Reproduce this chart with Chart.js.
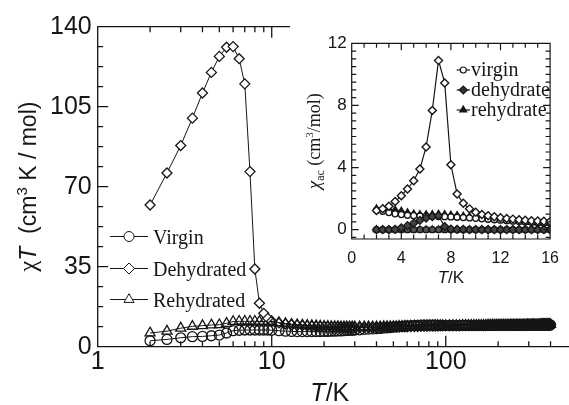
<!DOCTYPE html>
<html><head><meta charset="utf-8">
<script src="https://cdn.jsdelivr.net/npm/chart.js@4/dist/chart.umd.min.js"></script>
<style>
html,body{margin:0;padding:0;background:#fff;}
#wrap{position:relative;width:569px;height:405px;overflow:hidden;background:#fff;}
#main{position:absolute;left:0;top:0;width:569px;height:405px;}
#insetBox{position:absolute;left:290px;top:0;width:279px;height:290px;background:#fff;}
#inset{width:279px;height:290px;}
</style></head><body>
<div id="wrap">
<canvas id="main" width="569" height="405"></canvas>
<div id="insetBox"><canvas id="inset" width="279" height="290"></canvas></div>
</div>
<script>
// ---------------- main plot data (chi*T vs T) ----------------
const temperature = [2, 2.5, 3, 3.5, 4, 4.5, 5, 5.5, 6, 6.5, 7, 7.5, 8, 8.5, 9, 9.5,
  10, 11, 12, 13, 14, 15, 16, 17, 18, 19, 20, 21, 22, 23, 24, 25, 26, 27, 28, 29, 30,
  32, 34, 36, 38, 40, 42, 44, 46, 48, 50, 52, 54, 56, 58, 60,
  63, 66, 69, 72, 75, 78, 81, 84, 87, 90, 93, 96,
  100, 105, 110, 115, 120, 125, 130, 135, 140, 145,
  150, 155, 160, 165, 170, 175, 180, 185, 190, 195,
  200, 205, 210, 215, 220, 225, 230, 235, 240, 245,
  250, 255, 260, 265, 270, 275, 280, 285, 290, 295,
  300, 305, 310, 315, 320, 325, 330, 335, 340, 345,
  350, 355, 360, 365, 370, 375, 380, 385, 390, 395,
  400];
const virginChiT = [2.6, 3.2, 3.9, 4.4, 4.5, 4.8, 5.1, 6.0, 7.0, 7.2, 7.3, 7.3, 7.3, 7.3, 7.3, 7.3,
  7.2, 7.0, 6.8, 6.7, 6.6, 6.6, 6.6, 6.6, 6.6, 6.6, 6.7, 6.7, 6.8, 6.8, 6.9, 6.9, 7.0, 7.1, 7.2, 7.2, 7.3,
  7.4, 7.6, 7.7, 7.8, 7.9, 8.0, 8.2, 8.3, 8.4, 8.6, 8.7, 8.8, 8.9, 9.0, 9.1,
  9.2, 9.3, 9.3, 9.4, 9.4, 9.4, 9.4, 9.4, 9.4, 9.3, 9.3, 9.3,
  9.3, 9.3, 9.3, 9.3, 9.3, 9.3, 9.3, 9.3, 9.3, 9.3,
  9.3, 9.3, 9.3, 9.3, 9.3, 9.3, 9.3, 9.3, 9.3, 9.3,
  9.4, 9.4, 9.4, 9.4, 9.4, 9.4, 9.4, 9.4, 9.4, 9.4,
  9.4, 9.4, 9.4, 9.4, 9.4, 9.4, 9.4, 9.4, 9.4, 9.4,
  9.5, 9.5, 9.5, 9.5, 9.5, 9.5, 9.5, 9.5, 9.5, 9.5,
  9.5, 9.5, 9.5, 9.5, 9.5, 9.5, 9.5, 9.5, 9.5, 9.5,
  9.5];
const dehydratedChiT = [62, 76, 88, 100, 111, 120, 127, 131, 131.3, 126, 115, 76.6, 34, 19, 14.6, 12.4,
  11.2, 10.4, 9.9, 9.6, 9.4, 9.2, 9.0, 8.9, 8.8, 8.7, 8.6, 8.6, 8.5, 8.5, 8.5, 8.4, 8.4, 8.4, 8.4, 8.4, 8.4,
  8.4, 8.4, 8.4, 8.4, 8.4, 8.5, 8.5, 8.5, 8.5, 8.6, 8.6, 8.6, 8.7, 8.7, 8.7,
  8.8, 8.8, 8.8, 8.9, 8.9, 8.9, 9.0, 9.0, 9.0, 9.0, 9.1, 9.1,
  9.1, 9.1, 9.1, 9.1, 9.1, 9.2, 9.2, 9.2, 9.2, 9.2,
  9.2, 9.2, 9.2, 9.2, 9.2, 9.3, 9.3, 9.3, 9.3, 9.3,
  9.3, 9.3, 9.3, 9.3, 9.3, 9.3, 9.3, 9.4, 9.4, 9.4,
  9.4, 9.4, 9.4, 9.4, 9.4, 9.4, 9.4, 9.4, 9.4, 9.5,
  9.5, 9.5, 9.5, 9.5, 9.5, 9.5, 9.5, 9.5, 9.5, 9.5,
  9.5, 9.6, 9.6, 9.6, 9.6, 9.6, 9.6, 9.6, 9.6, 9.6,
  9.6];
const rehydratedChiT = [6.0, 6.8, 8.1, 8.9, 9.2, 9.5, 9.6, 10.2, 11.0, 11.1, 11.1, 11.1, 11.1, 11.0, 11.0, 11.0,
  10.9, 10.5, 10.1, 9.8, 9.6, 9.4, 9.3, 9.2, 9.1, 9.0, 8.9, 8.9, 8.8, 8.8, 8.8, 8.7, 8.7, 8.7, 8.7, 8.7, 8.7,
  8.7, 8.7, 8.7, 8.7, 8.7, 8.7, 8.8, 8.8, 8.8, 8.8, 8.8, 8.9, 8.9, 8.9, 8.9,
  9.0, 9.0, 9.0, 9.0, 9.1, 9.1, 9.1, 9.1, 9.2, 9.2, 9.2, 9.2,
  9.2, 9.2, 9.2, 9.2, 9.2, 9.3, 9.3, 9.3, 9.3, 9.3,
  9.3, 9.3, 9.3, 9.3, 9.3, 9.4, 9.4, 9.4, 9.4, 9.4,
  9.4, 9.4, 9.4, 9.4, 9.4, 9.4, 9.4, 9.5, 9.5, 9.5,
  9.5, 9.5, 9.5, 9.5, 9.5, 9.5, 9.5, 9.5, 9.5, 9.6,
  9.6, 9.6, 9.6, 9.6, 9.6, 9.6, 9.6, 9.6, 9.6, 9.6,
  9.6, 9.7, 9.7, 9.7, 9.7, 9.7, 9.7, 9.7, 9.7, 9.7,
  9.7];
const mainLabels = ['Virgin', 'Dehydrated', 'Rehydrated'];
const xTickValues = [1, 2, 3, 4, 5, 6, 7, 8, 9, 10, 20, 30, 40, 50, 60, 70, 80, 90, 100, 200, 300, 400];
const xTickLabels = [1, 10, 100];
const yTickValues = [0, 8.75, 17.5, 26.25, 35, 43.75, 52.5, 61.25, 70, 78.75, 87.5, 96.25, 105, 113.75, 122.5, 131.25, 140];
const yTickLabels = [0, 35, 70, 105, 140];

// ---------------- inset data (chi_ac vs T) ----------------
const insetTemperature = [2, 2.5, 3, 3.5, 4, 4.5, 5, 5.5, 6, 6.5, 7, 7.5, 8, 8.5, 9, 9.5,
  10, 10.5, 11, 11.5, 12, 12.5, 13, 13.5, 14, 14.5, 15, 15.5, 16];
const virginChiAcReal = [1.25, 1.18, 1.1, 1.02, 0.97, 0.93, 0.9, 0.88, 0.87, 0.86, 0.85, 0.84, 0.82, 0.8, 0.78,
  0.76, 0.73, 0.7, 0.67, 0.64, 0.61, 0.58, 0.55, 0.52, 0.5, 0.48, 0.46, 0.44, 0.43];
const virginChiAcImag = [0, 0, 0, 0, 0, 0, 0, 0, 0, 0, 0, 0, 0, 0, 0, 0, 0, 0, 0, 0, 0, 0, 0, 0, 0, 0, 0, 0, 0];
const dehydrateChiAcReal = [1.23, 1.34, 1.51, 1.81, 2.19, 2.62, 3.15, 3.9, 5.33, 7.68, 10.9, 9.45, 4.18, 2.3, 1.7,
  1.34, 1.13, 0.98, 0.9, 0.83, 0.77, 0.72, 0.68, 0.64, 0.61, 0.58, 0.56, 0.54, 0.52];
const dehydrateChiAcImag = [0, 0, 0, 0.02, 0.12, 0.26, 0.42, 0.6, 0.75, 0.85, 0.9, 0.2, 0.04, 0.02, 0.01,
  0, 0, 0, 0, 0, 0, 0, 0, 0, 0, 0, 0, 0, 0];
const rehydrateChiAcReal = [1.35, 1.36, 1.33, 1.28, 1.2, 1.1, 1.02, 0.98, 0.97, 0.98, 1.0, 0.98, 0.95, 0.92, 0.88,
  0.84, 0.8, 0.76, 0.72, 0.68, 0.64, 0.6, 0.56, 0.53, 0.5, 0.47, 0.44, 0.42, 0.4];
const rehydrateChiAcImag = [0, 0, 0, 0, 0, 0, 0, 0, 0, 0, 0, 0, 0, 0, 0, 0, 0, 0, 0, 0, 0, 0, 0, 0, 0, 0, 0, 0, 0];
const insetLabels = ['virgin', 'dehydrate', 'rehydrate'];
const insetXTicks = [0, 1, 2, 3, 4, 5, 6, 7, 8, 9, 10, 11, 12, 13, 14, 15, 16];
const insetXLabels = [0, 4, 8, 12, 16];
const insetYTicks = [-0.5, 0, 0.5, 1, 1.5, 2, 2.5, 3, 3.5, 4, 4.5, 5, 5.5, 6, 6.5, 7, 7.5, 8, 8.5, 9, 9.5, 10, 10.5, 11, 11.5, 12];
const insetYLabels = [0, 4, 8, 12];

const INK = '#161616';
const CLEAR = 'rgba(255,255,255,0)';

function pts(xs, ys) { return xs.map((x, i) => ({ x: x, y: ys[i] })); }

function drawMarker(ctx, style, x, y, r, fill) {
  ctx.beginPath();
  if (style === 'circle') {
    ctx.arc(x, y, r, 0, Math.PI * 2);
  } else if (style === 'rectRot') {
    ctx.moveTo(x - r, y); ctx.lineTo(x, y - r); ctx.lineTo(x + r, y); ctx.lineTo(x, y + r); ctx.closePath();
  } else {
    const s = Math.sin(2 * Math.PI / 3) * r;
    ctx.moveTo(x, y - r); ctx.lineTo(x + s, y + r / 2); ctx.lineTo(x - s, y + r / 2); ctx.closePath();
  }
  ctx.fillStyle = fill; ctx.fill(); ctx.stroke();
}

function drawRuns(ctx, runs, x, y) {
  let total = 0;
  runs.forEach(r => { ctx.font = r.font; r.w = ctx.measureText(r.t).width; total += r.w; });
  let cx = x - total / 2;
  ctx.textBaseline = 'alphabetic'; ctx.textAlign = 'left'; ctx.fillStyle = INK;
  runs.forEach(r => { ctx.font = r.font; ctx.fillText(r.t, cx, y + (r.dy || 0)); cx += r.w; });
}

function ds(label, data, style, r, fill, bw, lw) {
  return { label: label, data: data, pointStyle: style, pointRadius: r, pointBackgroundColor: fill,
    pointBorderColor: INK, pointBorderWidth: bw, borderColor: INK, borderWidth: lw, showLine: true,
    tension: 0, fill: false };
}

// diamonds: white inside on the isolated peak, see-through in the crowded high-T band
const diamondFill = c => (c.raw && c.raw.x < 10) ? '#fff' : CLEAR;

// ---------------- main chart ----------------
const mainStyles = [
  { style: 'circle', r: 5, fill: '#fff' },
  { style: 'rectRot', r: 5.5, fill: '#fff' },
  { style: 'triangle', r: 5.8, fill: '#fff' }
];

const mainPlugin = {
  id: 'mainPlugin',
  afterDraw(chart) {
    const ctx = chart.ctx, a = chart.chartArea, xs = chart.scales.x, ys = chart.scales.y;
    ctx.save();
    ctx.strokeStyle = INK; ctx.lineWidth = 1.3;
    ctx.beginPath();
    ctx.moveTo(a.left, a.top); ctx.lineTo(a.left, a.bottom);
    ctx.moveTo(a.left - 0.65, a.bottom); ctx.lineTo(chart.width, a.bottom);
    ctx.moveTo(a.left - 0.65, a.top); ctx.lineTo(chart.width, a.top);
    xTickValues.forEach(v => {
      const px = xs.getPixelForValue(v);
      const L = xTickLabels.includes(v) ? 11 : 5.5;
      ctx.moveTo(px, a.bottom); ctx.lineTo(px, a.bottom - L);
      ctx.moveTo(px, a.top); ctx.lineTo(px, a.top + L);
    });
    yTickValues.forEach(v => {
      const py = ys.getPixelForValue(v);
      const L = yTickLabels.includes(v) ? 10.5 : 5.5;
      ctx.moveTo(a.left, py); ctx.lineTo(a.left + L, py);
    });
    ctx.stroke();

    // axis titles
    drawRuns(ctx, [
      { t: 'T', font: 'italic 25px "Liberation Sans"' },
      { t: '/K', font: '25px "Liberation Sans"' }
    ], (a.left + a.right) / 2, 401);
    ctx.save();
    ctx.translate(36, (a.top + a.bottom) / 2);
    ctx.rotate(-Math.PI / 2);
    drawRuns(ctx, [
      { t: 'χ', font: '25px "Liberation Serif"' },
      { t: 'T', font: 'italic 23px "Liberation Sans"' },
      { t: '  (cm', font: '23px "Liberation Sans"' },
      { t: '3', font: '15px "Liberation Sans"', dy: -9 },
      { t: ' K / mol)', font: '23px "Liberation Sans"' }
    ], 0, 0);
    ctx.restore();

    // legend
    const rows = [236.5, 268.5, 299.5];
    rows.forEach((y, i) => {
      ctx.strokeStyle = INK; ctx.lineWidth = 1;
      ctx.beginPath(); ctx.moveTo(110, y); ctx.lineTo(148, y); ctx.stroke();
      drawMarker(ctx, mainStyles[i].style, 129, y, mainStyles[i].r, mainStyles[i].fill);
      ctx.fillStyle = INK; ctx.font = '20px "Liberation Serif"';
      ctx.textAlign = 'left'; ctx.textBaseline = 'alphabetic';
      ctx.fillText(mainLabels[i], 153, y + 7.5);
    });
    ctx.restore();
  }
};

new Chart(document.getElementById('main'), {
  type: 'line',
  data: {
    datasets: [
      ds(mainLabels[0], pts(temperature, virginChiT), 'circle', 5, CLEAR, 1.3, 1),
      ds(mainLabels[1], pts(temperature, dehydratedChiT), 'rectRot', 5, diamondFill, 1.3, 1),
      ds(mainLabels[2], pts(temperature, rehydratedChiT), 'triangle', 5.8, CLEAR, 1.3, 1)
    ]
  },
  options: {
    responsive: false, animation: false, events: [],
    layout: { padding: { top: 26.7, right: 0, left: 0, bottom: 0 } },
    plugins: { legend: { display: false }, tooltip: { enabled: false }, title: { display: false } },
    scales: {
      x: {
        type: 'logarithmic', min: 1, max: 465, position: 'bottom',
        grid: { display: false, drawTicks: false }, border: { display: false },
        afterBuildTicks: s => { s.ticks = xTickValues.map(v => ({ value: v })); },
        afterFit: s => { s.height = 58.3; },
        ticks: { autoSkip: false, maxRotation: 0, minRotation: 0, padding: 0, color: INK,
          font: { family: '"Liberation Sans"', size: 25 },
          callback: v => xTickLabels.includes(v) ? String(v) : '' }
      },
      y: {
        type: 'linear', min: 0, max: 140,
        grid: { display: false, drawTicks: false }, border: { display: false },
        afterBuildTicks: s => { s.ticks = yTickValues.map(v => ({ value: v })); },
        afterFit: s => { s.width = 97.7; },
        ticks: { autoSkip: false, padding: 6, color: INK,
          font: { family: '"Liberation Sans"', size: 25 },
          callback: v => yTickLabels.includes(v) ? String(v) : '' }
      }
    }
  },
  plugins: [mainPlugin]
});

// ---------------- inset chart ----------------
const insetStyles = [
  { style: 'circle', r: 3, fill: '#fff' },
  { style: 'rectRot', r: 4, fill: '#333' },
  { style: 'triangle', r: 4, fill: INK }
];

const insetPlugin = {
  id: 'insetPlugin',
  afterDraw(chart) {
    const ctx = chart.ctx, a = chart.chartArea, xs = chart.scales.x, ys = chart.scales.y;
    ctx.save();
    ctx.strokeStyle = INK; ctx.lineWidth = 1.2;
    ctx.beginPath();
    ctx.rect(a.left, a.top, a.right - a.left, a.bottom - a.top);
    insetXTicks.forEach(v => {
      const px = xs.getPixelForValue(v);
      const L = insetXLabels.includes(v) ? 7 : 4.5;
      ctx.moveTo(px, a.bottom); ctx.lineTo(px, a.bottom - L);
      ctx.moveTo(px, a.top); ctx.lineTo(px, a.top + L);
    });
    insetYTicks.forEach(v => {
      const py = ys.getPixelForValue(v);
      const L = insetYLabels.includes(v) ? 7 : 4.5;
      ctx.moveTo(a.left, py); ctx.lineTo(a.left + L, py);
      ctx.moveTo(a.right, py); ctx.lineTo(a.right - L, py);
    });
    ctx.stroke();

    drawRuns(ctx, [
      { t: 'T', font: 'italic 17px "Liberation Sans"' },
      { t: '/K', font: '17px "Liberation Sans"' }
    ], (a.left + a.right) / 2, 283);
    ctx.save();
    ctx.translate(30, (a.top + a.bottom) / 2);
    ctx.rotate(-Math.PI / 2);
    drawRuns(ctx, [
      { t: 'χ', font: 'italic 19px "Liberation Serif"' },
      { t: 'ac', font: '12px "Liberation Serif"', dy: 4 },
      { t: ' (cm', font: '18px "Liberation Serif"' },
      { t: '3', font: '11px "Liberation Serif"', dy: -7 },
      { t: '/mol)', font: '18px "Liberation Serif"' }
    ], 0, 0);
    ctx.restore();

    const rows = [70, 90, 110];
    rows.forEach((y, i) => {
      ctx.strokeStyle = INK; ctx.lineWidth = 1.2;
      ctx.beginPath(); ctx.moveTo(166.7, y); ctx.lineTo(180, y); ctx.stroke();
      drawMarker(ctx, insetStyles[i].style, 173.3, y, insetStyles[i].r, insetStyles[i].fill);
      ctx.fillStyle = INK; ctx.font = '20px "Liberation Serif"';
      ctx.textAlign = 'left'; ctx.textBaseline = 'alphabetic';
      ctx.fillText(insetLabels[i], 181, y + 6);
    });
    ctx.restore();
  }
};

new Chart(document.getElementById('inset'), {
  type: 'line',
  data: {
    datasets: [
      ds(insetLabels[1], pts(insetTemperature, dehydrateChiAcReal), 'rectRot', 4, '#fff', 1.4, 1.2),
      ds(insetLabels[1], pts(insetTemperature, dehydrateChiAcImag), 'rectRot', 4, '#444', 1.3, 1.2),
      ds(insetLabels[0], pts(insetTemperature, virginChiAcReal), 'circle', 3, '#fff', 1.3, 1.2),
      ds(insetLabels[0], pts(insetTemperature, virginChiAcImag), 'circle', 3, '#555', 1.3, 1.2),
      ds(insetLabels[2], pts(insetTemperature, rehydrateChiAcReal), 'triangle', 4, INK, 1.1, 1.2),
      ds(insetLabels[2], pts(insetTemperature, rehydrateChiAcImag), 'triangle', 4, INK, 1.1, 1.2)
    ]
  },
  options: {
    responsive: false, animation: false, events: [],
    layout: { padding: { top: 43.3, right: 15, left: 0, bottom: 0 } },
    plugins: { legend: { display: false }, tooltip: { enabled: false } },
    scales: {
      x: {
        type: 'linear', min: 0, max: 16,
        grid: { display: false, drawTicks: false }, border: { display: false },
        afterBuildTicks: s => { s.ticks = insetXTicks.map(v => ({ value: v })); },
        afterFit: s => { s.height = 51; },
        ticks: { autoSkip: false, maxRotation: 0, padding: 10, color: INK,
          font: { family: '"Liberation Sans"', size: 16 },
          callback: v => insetXLabels.includes(v) ? String(v) : '' }
      },
      y: {
        type: 'linear', min: -0.6, max: 12,
        grid: { display: false, drawTicks: false }, border: { display: false },
        afterBuildTicks: s => { s.ticks = insetYTicks.map(v => ({ value: v })); },
        afterFit: s => { s.width = 61.7; },
        ticks: { autoSkip: false, padding: 5, color: INK,
          font: { family: '"Liberation Sans"', size: 17 },
          callback: v => insetYLabels.includes(v) ? String(v) : '' }
      }
    }
  },
  plugins: [insetPlugin]
});
</script>
</body></html>
